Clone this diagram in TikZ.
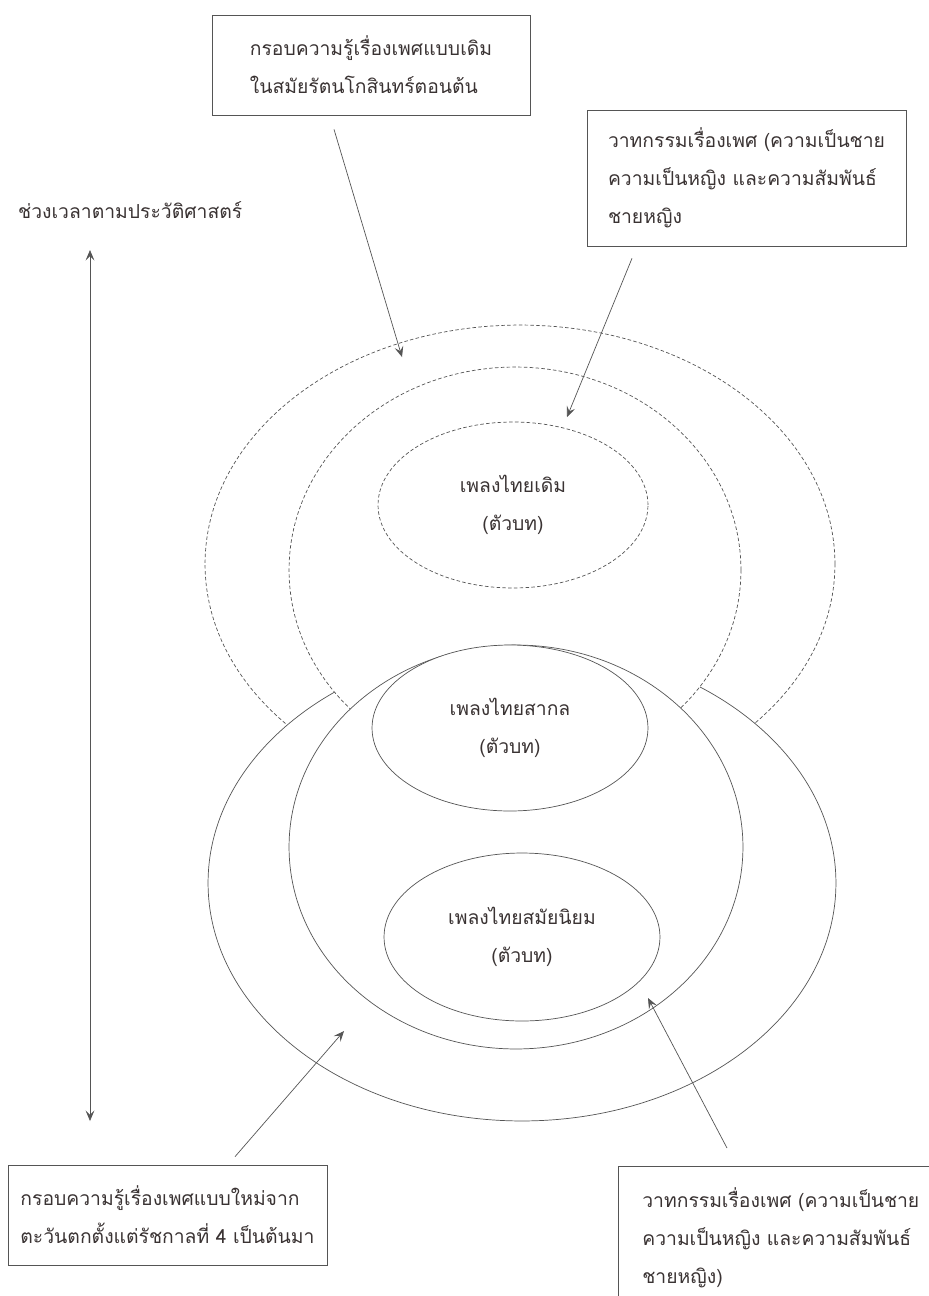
\documentclass[tikz,border=0pt]{standalone}
\usepackage{fontspec}
\newfontfamily\thaifont[Script=Thai]{Loma}
\usetikzlibrary{shapes.geometric,arrows.meta}
\definecolor{inkline}{HTML}{555555}
\definecolor{inktext}{HTML}{3A3333}
\begin{document}
\begin{tikzpicture}[x=0.02cm, y=-0.02cm,
		every node/.style={font=\thaifont\fontsize{11}{21.6}\selectfont, text=inktext},
		oldring/.style={draw=inkline, dash pattern=on 2pt off 1.3pt, fill=white, ellipse, inner sep=0pt, align=center},
		newring/.style={draw=inkline, fill=white, ellipse, inner sep=0pt, align=center},
		textbox/.style={draw=inkline, rectangle, align=left, inner sep=0pt},
		pointer/.style={draw=inkline, ->, >={Stealth[length=6pt, width=5pt, inset=2.5pt]}}]
		\useasboundingbox(0, 0) rectangle (929, 1296);
		\clip(0, 0) rectangle (929, 1296);

		\node[oldring, minimum width=12.6cm, minimum height=9.56cm] (oldouter) at(520, 564){};
		\node[newring, minimum width=12.56cm, minimum height=9.52cm] (newouter) at(522, 883){};
		\node[oldring, minimum width=9.04cm, minimum height=8.12cm] (oldmiddle) at(515, 570){};
		\node[newring, minimum width=9.08cm, minimum height=8.08cm] (newmiddle) at(516, 847){};

		\node[oldring, minimum width=5.4cm, minimum height=3.32cm] (oldsong) at(513, 505){เพลงไทยเดิม\\(ตัวบท)};
		\node[newring, minimum width=5.52cm, minimum height=3.32cm] (intlsong) at(510, 728){เพลงไทยสากล\\(ตัวบท)};
		\node[newring, minimum width=5.52cm, minimum height=3.36cm] (popsong) at(522, 937){เพลงไทยสมัยนิยม\\(ตัวบท)};

		\node[textbox, minimum width=6.36cm, minimum height=2cm] (oldframe) at(371, 65){กรอบความรู้เรื่องเพศแบบเดิม\\ในสมัยรัตนโกสินทร์ตอนต้น};
		\node[textbox, minimum width=6.38cm, minimum height=2.72cm] (oldtalk) at(746.5, 178){วาทกรรมเรื่องเพศ (ความเป็นชาย\\ความเป็นหญิง และความสัมพันธ์\\ชายหญิง};
		\node[textbox, minimum width=6.38cm, minimum height=2cm] (newframe) at(167.5, 1215){กรอบความรู้เรื่องเพศแบบใหม่จาก\\ตะวันตกตั้งแต่รัชกาลที่ 4 เป็นต้นมา};
		\node[textbox, anchor=north west, text width=7cm, inner xsep=0.48cm, minimum height=2.84cm] (newtalk) at(618, 1166){วาทกรรมเรื่องเพศ (ความเป็นชาย\\ความเป็นหญิง และความสัมพันธ์\\ชายหญิง)};

		\node[anchor=west] (timeline) at(12, 210){ช่วงเวลาตามประวัติศาสตร์};
		\coordinate (timetop) at(90, 250);
		\coordinate (timebottom) at(90, 1121);
		\draw[pointer, <->](timetop) -- (timebottom);

		\coordinate (oldframetip) at(402, 357);
		\coordinate (oldtalktip) at(567, 417);
		\coordinate (newframetip) at(344, 1031);
		\coordinate (newtalktip) at(648, 998);
		\draw[pointer]([shift={(-37, 14)}]oldframe.south) -- (oldframetip);
		\draw[pointer]([shift={(-114.5, 12)}]oldtalk.south) -- (oldtalktip);
		\draw[pointer]([shift={(67.5, -8)}]newframe.north) -- (newframetip);
		\draw[pointer]([shift={(109, -18)}]newtalk.north west) -- (newtalktip);
\end{tikzpicture}
\end{document}
